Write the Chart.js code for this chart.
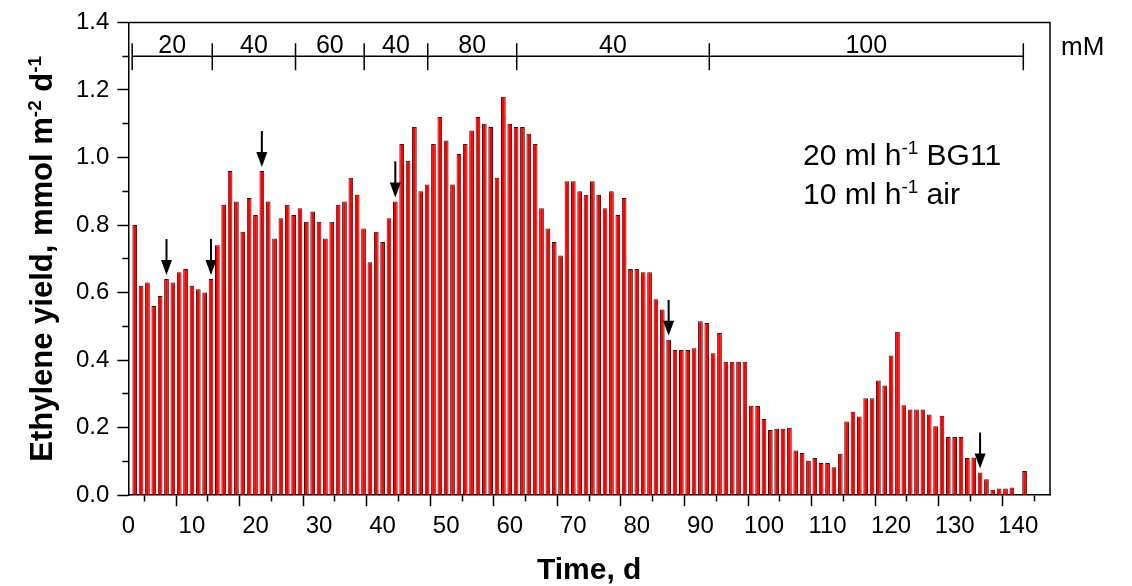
<!DOCTYPE html>
<html><head><meta charset="utf-8">
<script src="https://cdn.jsdelivr.net/npm/chart.js@4.4.0/dist/chart.umd.min.js"></script>
<style>html,body{margin:0;padding:0;background:#fff;} #wrap{width:1132px;height:586px;}</style>
</head><body><div id="wrap"><canvas id="c" width="1132" height="586"></canvas></div>
<script>
// ---- data ----
const days = [1,2,3,4,5,6,7,8,9,10,11,12,13,14,15,16,17,18,19,20,
  21,22,23,24,25,26,27,28,29,30,31,32,33,34,35,36,37,38,39,40,
  41,42,43,44,45,46,47,48,49,50,51,52,53,54,55,56,57,58,59,60,
  61,62,63,64,65,66,67,68,69,70,71,72,73,74,75,76,77,78,79,80,
  81,82,83,84,85,86,87,88,89,90,91,92,93,94,95,96,97,98,99,100,
  101,102,103,104,105,106,107,108,109,110,111,112,113,114,115,116,117,118,119,120,
  121,122,123,124,125,126,127,128,129,130,131,132,133,134,135,136,137,138,139,140,141];
const yieldValues = [0.80,0.62,0.63,0.56,0.59,0.64,0.63,0.66,0.67,0.62,
  0.61,0.60,0.64,0.74,0.86,0.96,0.87,0.78,0.88,0.83,
  0.96,0.87,0.76,0.82,0.86,0.83,0.85,0.81,0.84,0.81,
  0.76,0.81,0.86,0.87,0.94,0.89,0.79,0.69,0.78,0.75,
  0.82,0.87,1.04,0.99,1.09,0.90,0.92,1.04,1.12,1.05,
  0.92,1.01,1.04,1.08,1.12,1.10,1.09,0.94,1.18,1.10,
  1.09,1.09,1.07,1.04,0.85,0.79,0.75,0.71,0.93,0.93,
  0.90,0.89,0.93,0.89,0.85,0.90,0.83,0.88,0.67,0.67,
  0.66,0.66,0.58,0.55,0.46,0.43,0.43,0.43,0.435,0.515,
  0.51,0.42,0.48,0.395,0.395,0.395,0.395,0.265,0.264,0.226,
  0.193,0.197,0.197,0.200,0.132,0.125,0.102,0.110,0.095,0.095,
  0.083,0.123,0.218,0.247,0.233,0.287,0.287,0.340,0.325,0.414,
  0.484,0.266,0.254,0.254,0.254,0.239,0.204,0.235,0.172,0.172,
  0.172,0.110,0.112,0.067,0.047,0.016,0.020,0.020,0.023,null,0.072];
const xTickLabels = ['0','10','20','30','40','50','60','70','80','90','100','110','120','130','140'];
const yTickLabels = ['0.0','0.2','0.4','0.6','0.8','1.0','1.2','1.4'];
const concBounds = [0.6, 13.2, 26.3, 37.1, 47.1, 61.1, 91.4, 140.8];
const concLabels = ['20','40','60','40','80','40','100'];
const concLevel = 1.3;
const arrowDays = [6, 13, 21, 42, 85, 134];
const noteLines = [
  [['20 ml h', false], ['-1', true], [' BG11', false]],
  [['10 ml h', false], ['-1', true], [' air', false]]
];
const yTitle = [['Ethylene yield, mmol m', false], ['-2', true], [' d', false], ['-1', true]];
const xTitle = 'Time, d';
const unitLabel = 'mM';

// ---- drawing ----
const FONT = "'Liberation Sans', Arial, sans-serif";

function drawRich(ctx, parts, x, y, size, bold, align) {
  const w = (t, sup) => { ctx.font = (bold ? 'bold ' : '') + (sup ? Math.round(size*0.62) : size) + 'px ' + FONT; return ctx.measureText(t).width; };
  let total = 0; parts.forEach(p => total += w(p[0], p[1]));
  let cx = align === 'center' ? x - total/2 : x;
  ctx.textBaseline = 'alphabetic'; ctx.textAlign = 'left';
  parts.forEach(p => {
    const ww = w(p[0], p[1]);
    ctx.fillText(p[0], cx, p[1] ? y - size*0.36 : y);
    cx += ww;
  });
}

const decor = {
  id: 'decor',
  afterDraw(chart) {
    const {ctx, chartArea: a, scales: {x, y}} = chart;
    ctx.save();
    ctx.strokeStyle = '#000'; ctx.fillStyle = '#000'; ctx.lineWidth = 1.5;
    // frame top & right
    ctx.beginPath();
    ctx.moveTo(a.left, a.top); ctx.lineTo(a.right, a.top); ctx.lineTo(a.right, a.bottom);
    ctx.stroke();
    // concentration bracket
    const ly = y.getPixelForValue(concLevel);
    ctx.beginPath();
    ctx.moveTo(x.getPixelForValue(concBounds[0]), ly);
    ctx.lineTo(x.getPixelForValue(concBounds[concBounds.length-1]), ly);
    concBounds.forEach(b => { const px = x.getPixelForValue(b); ctx.moveTo(px, ly-13); ctx.lineTo(px, ly+14); });
    ctx.stroke();
    ctx.font = '25px ' + FONT; ctx.textAlign = 'center'; ctx.textBaseline = 'alphabetic';
    concLabels.forEach((t, i) => {
      const mid = (x.getPixelForValue(concBounds[i]) + x.getPixelForValue(concBounds[i+1]))/2;
      ctx.fillText(t, mid, ly - 3);
    });
    // unit
    ctx.font = '26px ' + FONT; ctx.textAlign = 'left';
    ctx.fillText(unitLabel, a.right + 11, 55);
    // arrows
    arrowDays.forEach(d => {
      const i = days.indexOf(d);
      const px = x.getPixelForValue(d);
      const tip = y.getPixelForValue(yieldValues[i]) - 4;
      ctx.lineWidth = 2;
      ctx.beginPath(); ctx.moveTo(px, tip - 36); ctx.lineTo(px, tip - 12); ctx.stroke();
      ctx.beginPath(); ctx.moveTo(px - 5.5, tip - 15); ctx.lineTo(px + 5.5, tip - 15); ctx.lineTo(px, tip); ctx.closePath(); ctx.fill();
    });
    // notes
    drawRich(ctx, noteLines[0], 803, 165, 30, false, 'left');
    drawRich(ctx, noteLines[1], 803, 204, 30, false, 'left');
    // x title
    ctx.font = 'bold 30px ' + FONT; ctx.textAlign = 'center'; ctx.textBaseline = 'alphabetic';
    ctx.fillText(xTitle, (a.left + a.right)/2, 579);
    // y title
    ctx.save();
    ctx.translate(52, (a.top + a.bottom)/2);
    ctx.rotate(-Math.PI/2);
    drawRich(ctx, yTitle, 0, 0, 31, true, 'center');
    ctx.restore();
    ctx.restore();
  }
};

const isMajorX = v => Math.abs(v % 10) < 1e-6;
const isMajorY = v => Math.round(v*10) % 2 === 0;

new Chart(document.getElementById('c').getContext('2d'), {
  type: 'bar',
  data: { datasets: [{
    data: days.map((d, i) => ({x: d, y: yieldValues[i]})),
    backgroundColor: '#ff0000', borderColor: '#5a0000', borderWidth: 1,
    borderSkipped: 'bottom', barPercentage: 0.74, categoryPercentage: 1
  }]},
  options: {
    responsive: false, animation: false, devicePixelRatio: 1,
    layout: {padding: {left: 68, right: 82, top: 16, bottom: 39}},
    plugins: {legend: {display: false}, tooltip: {enabled: false}},
    scales: {
      x: {type: 'linear', min: 0, max: 145, offset: false,
        ticks: {stepSize: 5, autoSkip: false, maxRotation: 0, color: '#000', padding: 6,
          font: {family: FONT, size: 24},
          callback: v => { const s = String(Math.round(v)); return (isMajorX(v) && xTickLabels.includes(s)) ? s : ''; }},
        grid: {drawOnChartArea: false, drawTicks: true, tickLength: 11, tickColor: '#000', tickWidth: 1.5,
          tickBorderDash: c => (c.tick && isMajorX(c.tick.value)) ? [] : [6, 30]},
        border: {color: '#000', width: 1.5}},
      y: {min: 0, max: 1.4,
        ticks: {stepSize: 0.1, autoSkip: false, color: '#000', padding: 8,
          font: {family: FONT, size: 24},
          callback: v => { const s = v.toFixed(1); return (isMajorY(v) && yTickLabels.includes(s)) ? s : ''; }},
        grid: {drawOnChartArea: false, drawTicks: true, tickLength: 11, tickColor: '#000', tickWidth: 1.5,
          tickBorderDash: c => (c.tick && isMajorY(c.tick.value)) ? [] : [0, 5, 6, 30]},
        border: {color: '#000', width: 1.5}}
    }
  },
  plugins: [decor]
});
</script></body></html>
